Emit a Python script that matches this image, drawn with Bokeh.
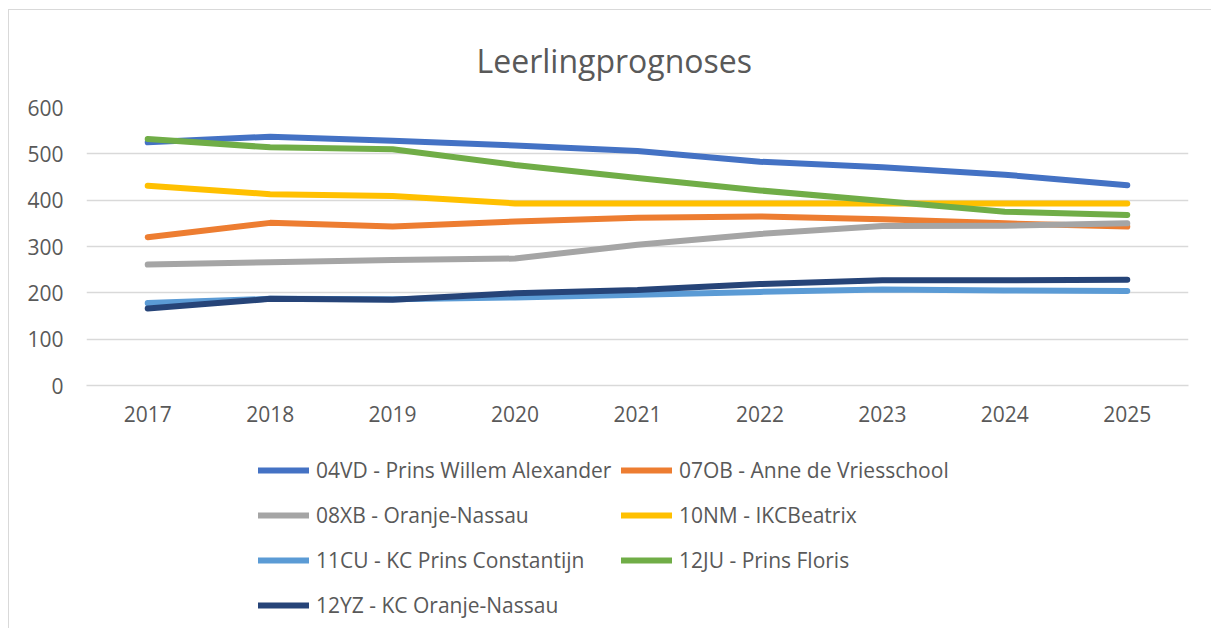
from bokeh.plotting import figure
from bokeh.layouts import column
from bokeh.models import FactorRange, Legend, LegendItem, Title, FixedTicker, Range1d
from bokeh.embed import file_html
from bokeh.resources import INLINE

years = ["2017", "2018", "2019", "2020", "2021", "2022", "2023", "2024", "2025"]

names = [
    "04VD - Prins Willem Alexander",
    "07OB - Anne de Vriesschool",
    "08XB - Oranje-Nassau",
    "10NM - IKCBeatrix",
    "11CU - KC Prins Constantijn",
    "12JU - Prins Floris",
    "12YZ - KC Oranje-Nassau",
]

s04VD = [525, 537, 528, 518, 506, 483, 471, 455, 432]
s07OB = [320, 351, 343, 354, 362, 365, 359, 350, 343]
s08XB = [261, 266, 271, 274, 304, 327, 344, 345, 350]
s10NM = [431, 413, 409, 393, 393, 393, 393, 393, 393]
s11CU = [178, 187, 186, 190, 196, 202, 207, 205, 204]
s12JU = [532, 514, 510, 476, 448, 421, 398, 375, 368]
s12YZ = [166, 187, 185, 199, 206, 219, 227, 227, 228]

y_ticks = [0, 100, 200, 300, 400, 500, 600]

series = [s04VD, s07OB, s08XB, s10NM, s11CU, s12JU, s12YZ]
colors = ["#4472C4", "#ED7D31", "#A5A5A5", "#FFC000", "#5B9BD5", "#70AD47", "#264478"]

FONT = "Open Sans"
TXT = "#595959"
GRID = "#d9d9d9"
LW = 6

# ---- main chart ----
p = figure(
    width=1202, height=430,
    x_range=FactorRange(*years), y_range=(0, 600),
    output_backend="svg", toolbar_location=None,
    min_border_left=77, min_border_right=23,
    min_border_top=97, min_border_bottom=55,
)
p.outline_line_color = None
p.background_fill_color = "white"
p.border_fill_color = "white"

title = Title(text="Leerlingprognoses", align="left", offset=390,
              text_font=FONT, text_font_size="32px", text_font_style="normal",
              text_color=TXT, standoff=51)
p.add_layout(title, "above")

for vals, c in zip(series, colors):
    p.line(years, vals, line_color=c, line_width=LW,
           line_cap="round", line_join="round")

p.yaxis.ticker = FixedTicker(ticks=y_ticks)
p.ygrid.grid_line_color = GRID
p.ygrid.grid_line_width = 1.5
p.xgrid.grid_line_color = None

for ax in (p.xaxis[0], p.yaxis[0]):
    ax.major_tick_line_color = None
    ax.minor_tick_line_color = None
    ax.major_label_text_font = FONT
    ax.major_label_text_font_size = "21px"
    ax.major_label_text_color = TXT
p.yaxis.axis_line_color = None
p.yaxis.major_label_standoff = 17
p.xaxis.axis_line_color = GRID
p.xaxis.axis_line_width = 1.5
p.xaxis.major_label_standoff = 14

# ---- legend panel (series drawn outside its visible range; only the legend shows) ----
q = figure(
    width=1202, height=188,
    x_range=FactorRange(*years), y_range=Range1d(10000, 10001),
    x_axis_type=None, y_axis_type=None,
    output_backend="svg", toolbar_location=None,
    min_border=0,
)
q.outline_line_color = None
q.background_fill_color = "white"
q.border_fill_color = "white"
q.xgrid.visible = False
q.ygrid.visible = False

items = []
for n, vals, c in zip(names, series, colors):
    r = q.line(years, vals, line_color=c, line_width=LW, line_cap="round")
    items.append(LegendItem(label=n, renderers=[r]))

legend = Legend(items=items, orientation="horizontal", ncols=2,
                location=(172, 1),
                glyph_width=51, glyph_height=20, label_height=45,
                label_width=305, label_standoff=7, spacing=0,
                padding=0, margin=0,
                border_line_color=None, background_fill_alpha=0,
                label_text_font=FONT, label_text_font_size="21px",
                label_text_color=TXT)
q.add_layout(legend, "center")

layout = column(p, q, spacing=0)
layout.styles = {
    "margin-left": "8px", "margin-top": "9px",
    "border-left": "1px solid #d9d9d9", "border-top": "1px solid #d9d9d9",
}

open("out.html", "w").write(file_html(layout, INLINE))
